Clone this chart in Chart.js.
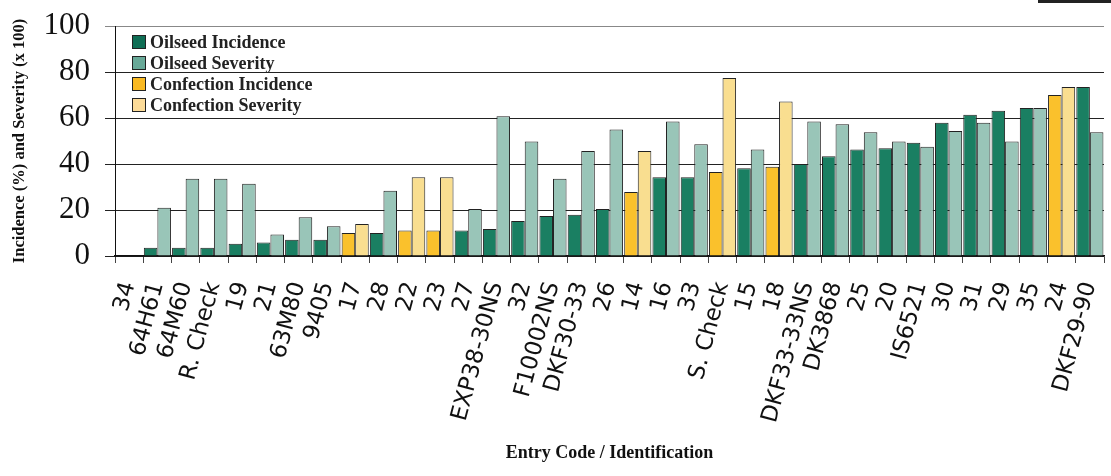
<!DOCTYPE html>
<html>
<head>
<meta charset="utf-8">
<script src="https://cdn.jsdelivr.net/npm/chart.js@4"></script>
<style>
  html, body { margin: 0; padding: 0; background: #fff; }
  #wrap { position: relative; width: 1111px; height: 476px; }
  #corner { position: absolute; left: 1038px; top: 0; width: 73px; height: 3px; background: #222; }
</style>
</head>
<body>
<div id="wrap">
  <canvas id="chart" width="1111" height="476"></canvas>
  <div id="corner"></div>
</div>
<script>
// entries, sorted by incidence
const entries = ['34', '64H61', '64M60', 'R. Check', '19', '21', '63M80', '9405', '17', '28',
  '22', '23', '27', 'EXP38-30NS', '32', 'F10002NS', 'DKF30-33', '26', '14', '16',
  '33', 'S. Check', '15', '18', 'DKF33-33NS', 'DK3868', '25', '20', 'IS6521', '30',
  '31', '29', '35', '24', 'DKF29-90'];

// O = oilseed, C = confection
const entryType = ['O', 'O', 'O', 'O', 'O', 'O', 'O', 'O', 'C', 'O',
  'C', 'C', 'O', 'O', 'O', 'O', 'O', 'O', 'C', 'O',
  'O', 'C', 'O', 'C', 'O', 'O', 'O', 'O', 'O', 'O',
  'O', 'O', 'O', 'C', 'O'];

const incidence = [null, 3.6, 3.6, 3.6, 5.3, 5.9, 7.1, 7.1, 10, 10,
  11.1, 11.1, 11.1, 11.7, 15.2, 17.4, 17.9, 20.4, 27.8, 34.2,
  34.2, 36.5, 38.2, 38.8, 40, 43.4, 46.3, 46.9, 49.2, 57.9,
  61.4, 63.1, 64.3, 70, 73.5];

const severity = [null, 21, 33.6, 33.6, 31.4, 9.4, 16.9, 12.9, 13.9, 28.4,
  34.2, 34.2, 20.4, 60.8, 49.8, 33.6, 45.7, 55, 45.7, 58.5,
  48.6, 77.4, 46.3, 67.2, 58.5, 57.3, 53.8, 49.8, 47.5, 54.4,
  57.9, 49.8, 64.3, 73.5, 53.8];

const yTicks = [0, 20, 40, 60, 80, 100];

const legendNames = ['Oilseed Incidence', 'Oilseed Severity', 'Confection Incidence', 'Confection Severity'];
const legendColors = ['#0f6e55', '#68a998', '#f9b922', '#fcdb98'];

const colors = {
  O: { inc: '#1a7f62', sev: '#99c5b8' },
  C: { inc: '#fac12c', sev: '#f9de90' }
};

const serif = '"Liberation Serif", "Times New Roman", serif';

// legend drawn inside the plot, top left
const boxLegend = {
  id: 'boxLegend',
  afterDraw(chart) {
    const c = chart.ctx;
    c.save();
    c.font = 'bold 18px ' + serif;
    c.textBaseline = 'middle';
    legendNames.forEach((name, i) => {
      const y = 35 + i * 21;
      c.fillStyle = legendColors[i];
      c.fillRect(132, y, 13, 13);
      c.strokeStyle = '#222';
      c.lineWidth = 1;
      c.strokeRect(132.5, y + 0.5, 13, 13);
      c.fillStyle = '#222';
      c.fillText(name, 150, y + 8);
    });
    c.restore();
  }
};

new Chart(document.getElementById('chart').getContext('2d'), {
  type: 'bar',
  data: {
    labels: entries,
    datasets: [
      {
        label: 'Incidence',
        data: incidence,
        backgroundColor: entryType.map(t => colors[t].inc),
        borderColor: '#222',
        borderWidth: 1
      },
      {
        label: 'Severity',
        data: severity,
        backgroundColor: entryType.map(t => colors[t].sev),
        borderColor: '#222',
        borderWidth: 1
      }
    ]
  },
  options: {
    responsive: false,
    animation: false,
    layout: { padding: { top: 26, right: 7, left: 0, bottom: 0 } },
    datasets: { bar: { categoryPercentage: 0.96, barPercentage: 1.0 } },
    plugins: {
      legend: { display: false },
      tooltip: { enabled: false }
    },
    scales: {
      x: {
        offset: true,
        grid: { offset: true, drawOnChartArea: false, tickLength: 7, color: '#444' },
        border: { color: '#111', width: 1.5 },
        ticks: {
          autoSkip: false,
          minRotation: 75,
          maxRotation: 75,
          color: '#111',
          padding: 16,
          font: { family: '"DejaVu Sans", sans-serif', size: 23 }
        },
        title: {
          display: true,
          text: 'Entry Code / Identification',
          color: '#111',
          font: { family: serif, size: 18, weight: 'bold' },
          padding: { top: 0, bottom: 12 }
        },
        afterFit: s => {
          s.height = 220;
          s.paddingLeft = 0;
          s.paddingRight = 0;
        }
      },
      y: {
        min: 0,
        max: 100,
        afterBuildTicks: s => { s.ticks = yTicks.map(v => ({ value: v })); },
        grid: {
          tickLength: 10,
          color: ctx => (ctx.tick && ctx.tick.value === 100) ? '#888' : '#222',
          lineWidth: 1
        },
        border: { color: '#111', width: 1 },
        ticks: {
          color: '#111',
          padding: 15,
          font: { family: serif, size: 31 }
        },
        title: {
          display: true,
          text: 'Incidence (%) and Severity (x 100)',
          color: '#111',
          font: { family: serif, size: 16.5, weight: 'bold' },
          padding: { top: 10, bottom: 0 }
        },
        afterFit: s => {
          s.width = 115;
          s.paddingTop = 0;
          s.paddingBottom = 0;
        }
      }
    }
  },
  plugins: [boxLegend]
});
</script>
</body>
</html>
